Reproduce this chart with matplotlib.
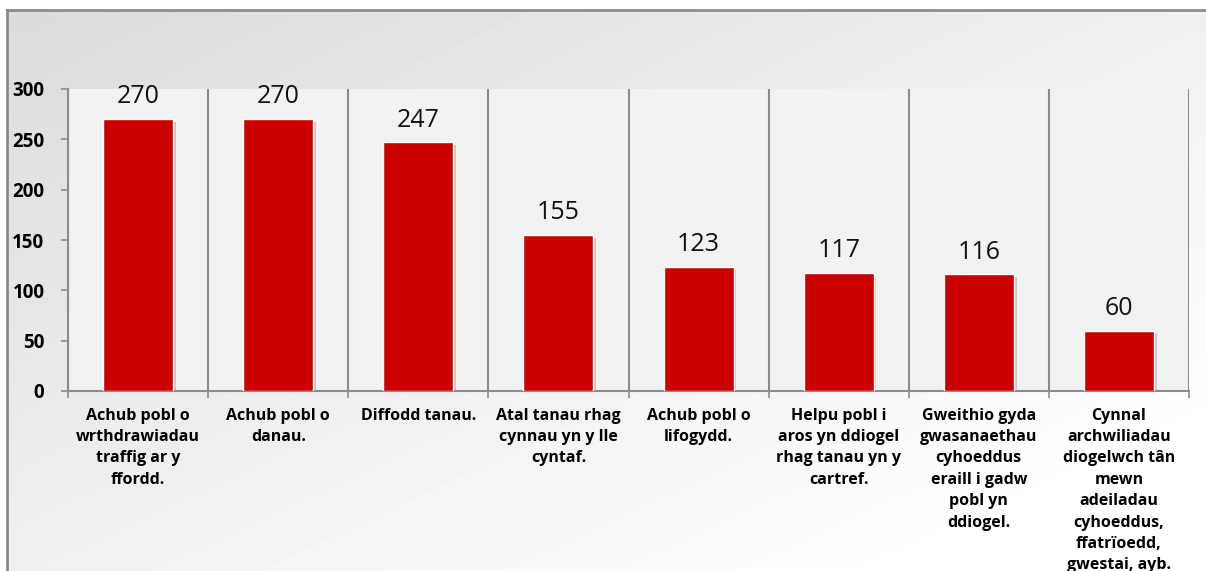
import numpy as np
import matplotlib
matplotlib.use('Agg')
from matplotlib import pyplot as plt
import matplotlib.patheffects as pe
from matplotlib.lines import Line2D

categories = [
    'Achub pobl o\nwrthdrawiadau\ntraffig ar y\nffordd.',
    'Achub pobl o\ndanau.',
    'Diffodd tanau.',
    'Atal tanau rhag\ncynnau yn y lle\ncyntaf.',
    'Achub pobl o\nlifogydd.',
    'Helpu pobl i\naros yn ddiogel\nrhag tanau yn y\ncartref.',
    'Gweithio gyda\ngwasanaethau\ncyhoeddus\neraill i gadw\npobl yn\nddiogel.',
    'Cynnal\narchwiliadau\ndiogelwch tân\nmewn\nadeiladau\ncyhoeddus,\nffatrïoedd,\ngwestai, ayb.',
]
values = [270, 270, 247, 155, 123, 117, 116, 60]
y_ticks = [0, 50, 100, 150, 200, 250, 300]

plt.rcParams['font.family'] = ['Open Sans', 'DejaVu Sans']

W, H = 1206, 571
fig = plt.figure(figsize=(W / 100, H / 100), dpi=100)

# gradient background of the chart area
bg = fig.add_axes([7 / W, 0, 1 - 7 / W, (H - 10) / H])
u = np.linspace(0, 1, 300)[None, :]
v = np.linspace(0, 1, 150)[:, None]
grad = 0.86 + 0.08 * u + 0.08 * v
bg.imshow(grad, cmap='gray', vmin=0, vmax=1, aspect='auto', extent=[0, 1, 0, 1], origin='upper')
bg.axis('off')
fig.add_artist(Line2D([7 / W, 1], [(H - 10) / H] * 2, color='#8c8c8c', lw=2))
fig.add_artist(Line2D([7 / W] * 2, [0, (H - 10) / H], color='#8c8c8c', lw=2))

ax = fig.add_axes([68 / W, (H - 391) / H, (1189 - 68) / W, (391 - 89) / H])
ax.set_facecolor('#f2f2f2')
x = np.arange(len(values))
bars = ax.bar(x, values, width=0.5, color='#cc0000', edgecolor='white', linewidth=1,
              path_effects=[pe.SimplePatchShadow(offset=(2, -2), shadow_rgbFace='#888888', alpha=0.4),
                            pe.Normal()], zorder=3)
ax.bar_label(bars, padding=7, fontsize=18, color='#111111')

ax.set_xlim(-0.5, len(values) - 0.5)
ax.set_ylim(0, 300)
ax.set_yticks(y_ticks)
ax.set_yticklabels([str(t) for t in y_ticks], fontsize=13.5, fontweight='bold')

ax.set_xticks(x)
ax.set_xticklabels(categories, fontsize=11.5, fontweight='bold', linespacing=1.45, va='top')
ax.tick_params(axis='x', length=0, pad=12)
ax.set_xticks(np.arange(len(values) + 1) - 0.5, minor=True)
ax.tick_params(axis='x', which='minor', length=5, color='#8c8c8c', width=1.2)
ax.grid(True, axis='x', which='minor', color='#8c8c8c', lw=1.5, zorder=1)
ax.tick_params(axis='y', length=5, color='#8c8c8c', width=1.2, pad=12)

for s in ['top', 'right']:
    ax.spines[s].set_visible(False)
ax.spines['left'].set_color('#8c8c8c')
ax.spines['bottom'].set_color('#8c8c8c')
ax.spines['left'].set_linewidth(1.5)
ax.spines['bottom'].set_linewidth(1.5)

fig.savefig('out.png', dpi=100)
